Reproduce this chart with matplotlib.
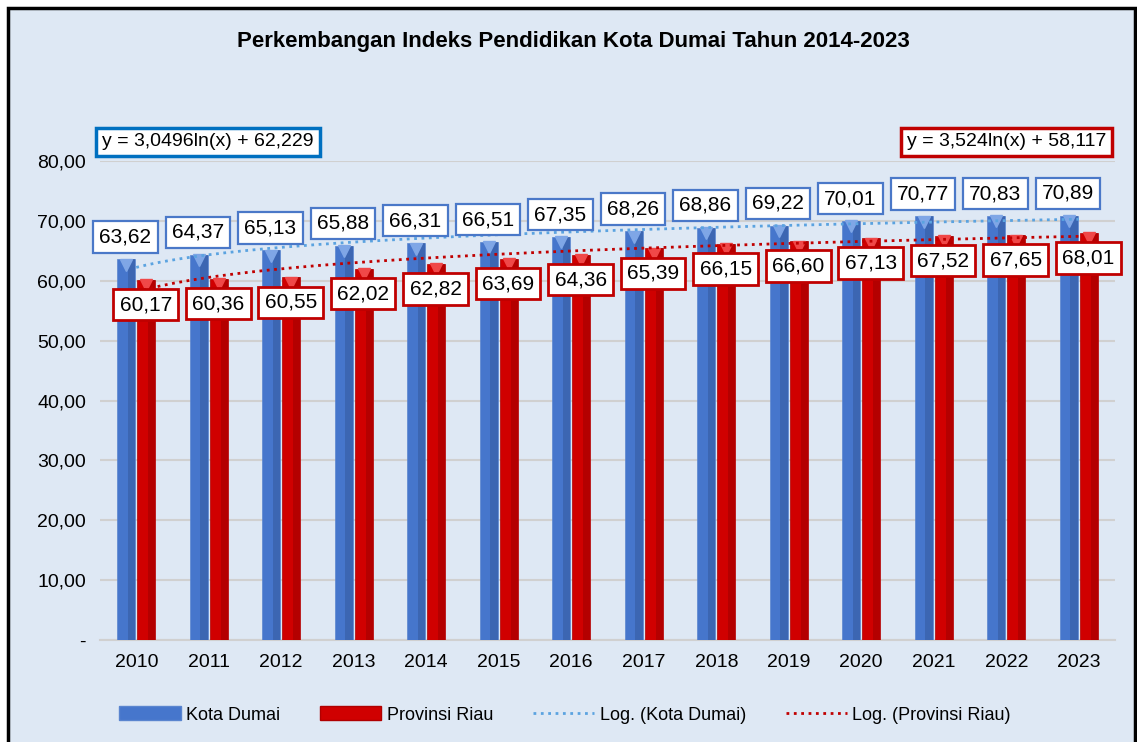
import matplotlib.pyplot as plt
import matplotlib.transforms as mtransforms
from matplotlib.patches import Rectangle
from matplotlib.lines import Line2D
import numpy as np

plt.rcParams['font.family'] = ['Liberation Sans', 'DejaVu Sans']

# Data
tahun = ['2010', '2011', '2012', '2013', '2014', '2015', '2016',
         '2017', '2018', '2019', '2020', '2021', '2022', '2023']
kota_dumai = [63.62, 64.37, 65.13, 65.88, 66.31, 66.51, 67.35,
              68.26, 68.86, 69.22, 70.01, 70.77, 70.83, 70.89]
provinsi_riau = [60.17, 60.36, 60.55, 62.02, 62.82, 63.69, 64.36,
                 65.39, 66.15, 66.60, 67.13, 67.52, 67.65, 68.01]
eq_dumai = 'y = 3,0496ln(x) + 62,229'
eq_riau = 'y = 3,524ln(x) + 58,117'
y_ticks = [0, 10, 20, 30, 40, 50, 60, 70, 80]

def fmt(v):
    return f'{v:.2f}'.replace('.', ',')

bg = '#DEE8F4'
blue = '#4676CC'
blue_dark = '#35599E'
blue_light = '#7FA6E6'
red = '#D00000'
red_dark = '#9E0000'
red_light = '#F04848'

fig = plt.figure(figsize=(11.37, 7.42), dpi=100, facecolor='white')
fig.patches.append(Rectangle((8 / 1137, -0.02), 1127 / 1137, 1.02 - 8 / 742,
                             transform=fig.transFigure, facecolor=bg,
                             edgecolor='black', linewidth=2.5, zorder=-5))

ax = fig.add_axes([100 / 1137, 1 - 640 / 742, 1015 / 1137, 479 / 742])
ax.set_zorder(2)
ax.patch.set_alpha(0)

x = np.arange(len(tahun))
w = 0.25
g = 0.03
xb = x - w / 2 - g / 2
xr = x + w / 2 + g / 2

# batang dengan bayangan sederhana
ax.bar(xb, kota_dumai, w, color=blue, edgecolor='#5A85CF', linewidth=0.5, zorder=3)
ax.bar(xb + w * 0.3, kota_dumai, w * 0.4, color=blue_dark, alpha=0.55, linewidth=0, zorder=3)
ax.bar(xr, provinsi_riau, w, color=red, edgecolor='#B00000', linewidth=0.5, zorder=3)
ax.bar(xr + w * 0.3, provinsi_riau, w * 0.4, color=red_dark, alpha=0.55, linewidth=0, zorder=3)

down = ax.transData + mtransforms.ScaledTranslation(0, -4 / 72, fig.dpi_scale_trans)
ax.plot(xb, kota_dumai, 'v', ms=9, color=blue_light, mec=blue_light, transform=down,
        zorder=4, clip_on=False)
ax.plot(xr, provinsi_riau, 'v', ms=9, color=red_light, mec=red_light, transform=down,
        zorder=4, clip_on=False)

# garis tren logaritmik dari data
lx = np.log(x + 1)
a1, b1 = np.polyfit(lx, kota_dumai, 1)
a2, b2 = np.polyfit(lx, provinsi_riau, 1)
xs = np.linspace(1, len(tahun), 200)
ax.plot(xs - 1, a1 * np.log(xs) + b1, ':', color='#5BA3E0', lw=2, zorder=5)
ax.plot(xs - 1, a2 * np.log(xs) + b2, ':', color='#C00000', lw=2, zorder=5)

# label data
for i in range(len(tahun)):
    ax.annotate(fmt(kota_dumai[i]), (x[i] - 0.15, kota_dumai[i]), xytext=(0, 16),
                textcoords='offset points', ha='center', va='center', fontsize=15,
                zorder=6, annotation_clip=False,
                bbox=dict(boxstyle='square,pad=0.3', fc='white', ec='#4A78C8', lw=1.6))
    ax.annotate(fmt(provinsi_riau[i]), (x[i] + 0.13, provinsi_riau[i]), xytext=(0, -18),
                textcoords='offset points', ha='center', va='center', fontsize=15,
                zorder=6, annotation_clip=False,
                bbox=dict(boxstyle='square,pad=0.3', fc='white', ec='#C00000', lw=2))

ax.text(-0.47, 83.2, eq_dumai, fontsize=14, ha='left', va='center', zorder=6,
        bbox=dict(boxstyle='square,pad=0.3', fc='white', ec='#0070C0', lw=2.5))
ax.text(13.38, 83.2, eq_riau, fontsize=14, ha='right', va='center', zorder=6,
        bbox=dict(boxstyle='square,pad=0.3', fc='white', ec='#C00000', lw=2.5))

ax.set_xlim(-0.5, len(tahun) - 0.5)
ax.set_ylim(0, 80)
ax.set_yticks(y_ticks)
ax.set_yticklabels(['-'] + [fmt(v) for v in y_ticks[1:]], fontsize=14)
ax.set_xticks(x)
ax.set_xticklabels(tahun, fontsize=14)
ax.tick_params(length=0, pad=10)
ax.grid(axis='y', color='#D0D0D0', lw=1.5, zorder=0)
ax.set_axisbelow(True)
for s in ['top', 'right', 'left']:
    ax.spines[s].set_visible(False)
ax.spines['bottom'].set_color('#D0D0D0')
ax.spines['bottom'].set_linewidth(1.5)

fig.text(573 / 1137, 1 - 42 / 742, 'Perkembangan Indeks Pendidikan Kota Dumai Tahun 2014-2023',
         ha='center', va='center', fontsize=16, fontweight='bold')

handles = [
    Rectangle((0, 0), 1, 1, fc=blue, ec='#5A85CF'),
    Rectangle((0, 0), 1, 1, fc=red, ec='#B00000'),
    Line2D([], [], ls=':', color='#5BA3E0', lw=2),
    Line2D([], [], ls=':', color='#C00000', lw=2),
]
labels = ['Kota Dumai', 'Provinsi Riau', 'Log. (Kota Dumai)', 'Log. (Provinsi Riau)']
fig.legend(handles, labels, loc='center', bbox_to_anchor=(565 / 1137, 1 - 715 / 742),
           ncol=4, frameon=False, fontsize=13, handlelength=3.4, handleheight=0.8,
           handletextpad=0.3, columnspacing=2.2)

fig.savefig('out.png', dpi=100, facecolor='white')
